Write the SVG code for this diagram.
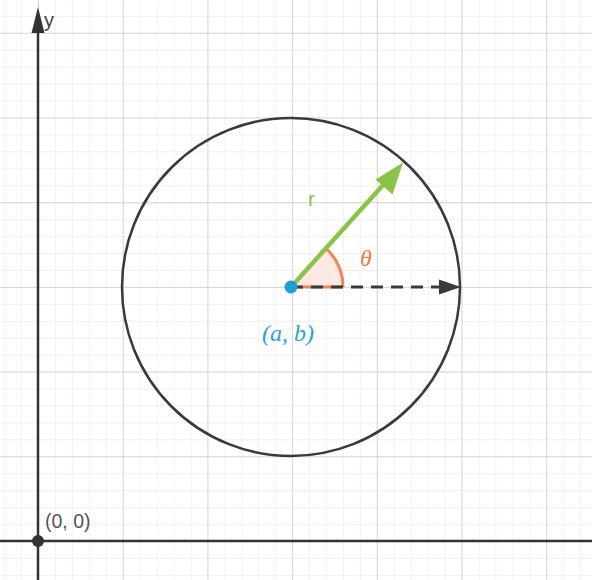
<svg xmlns="http://www.w3.org/2000/svg" width="592" height="580" viewBox="0 0 592 580">
<defs>
<pattern id="minor" x="38" y="541" width="16.94" height="16.94" patternUnits="userSpaceOnUse">
<path d="M0 0V16.94M0 0H16.94" fill="none" stroke="#ebebeb" stroke-width="1.3"/>
</pattern>
<pattern id="major" x="38" y="541" width="84.7" height="84.7" patternUnits="userSpaceOnUse">
<path d="M0 0V84.7M0 0H84.7" fill="none" stroke="#cfcfcf" stroke-width="1.5"/>
</pattern>
</defs>
<style>
.axis{stroke:#333;stroke-width:2.5;fill:none}
.lbl{font-family:"Liberation Sans",Arial,sans-serif}
.math{font-family:"Liberation Serif","Times New Roman",serif;font-style:italic}
</style>
<rect width="592" height="580" fill="#fff"/>
<rect width="592" height="580" fill="url(#minor)"/>
<rect width="592" height="580" fill="url(#major)"/>
<g id="axes">
<line class="axis" x1="38" y1="30" x2="38" y2="580"/>
<polygon points="38,7 31.5,33 44.5,33" fill="#333"/>
<line class="axis" x1="0" y1="541" x2="592" y2="541"/>
<text class="lbl" x="44" y="27" font-size="20" fill="#444">y</text>
</g>
<g id="origin">
<circle cx="38" cy="541" r="6" fill="#333"/>
<text class="lbl" x="45" y="528" font-size="19.5" fill="#555">(0, 0)</text>
</g>
<g id="circle">
<circle cx="291" cy="287" r="169" fill="none" stroke="#3a3a3a" stroke-width="2.5"/>
</g>
<g id="angle">
<path d="M291 287H343A52 52 0 0 0 325.8 248.4Z" fill="#fde8e2" stroke="none"/>
<path d="M343 287A52 52 0 0 0 325.8 248.4" fill="none" stroke="#f0855a" stroke-width="3"/>
<line x1="291" y1="287" x2="343" y2="287" stroke="#f0855a" stroke-width="3"/>
<text class="math" x="360" y="266" font-size="24" fill="#ef7a4f">θ</text>
</g>
<g id="connectors">
<line x1="291" y1="287" x2="442" y2="287" stroke="#3a3a3a" stroke-width="3" stroke-dasharray="12 8"/>
<polygon points="461,287 439,279.5 439,294.5" fill="#3a3a3a"/>
<line x1="291" y1="287" x2="393" y2="174" stroke="#8bc34a" stroke-width="4.5"/>
<polygon points="403,162.5 375.5,179.5 392.5,194.5" fill="#8bc34a"/>
</g>
<g id="r-label">
<text class="lbl" x="308" y="206" font-size="21" fill="#8bc34a">r</text>
</g>
<g id="center">
<circle cx="291" cy="287" r="6.5" fill="#1e9fd8"/>
<text class="math" x="288" y="341" font-size="24" fill="#2aa3d6" text-anchor="middle">(a, b)</text>
</g>
</svg>
